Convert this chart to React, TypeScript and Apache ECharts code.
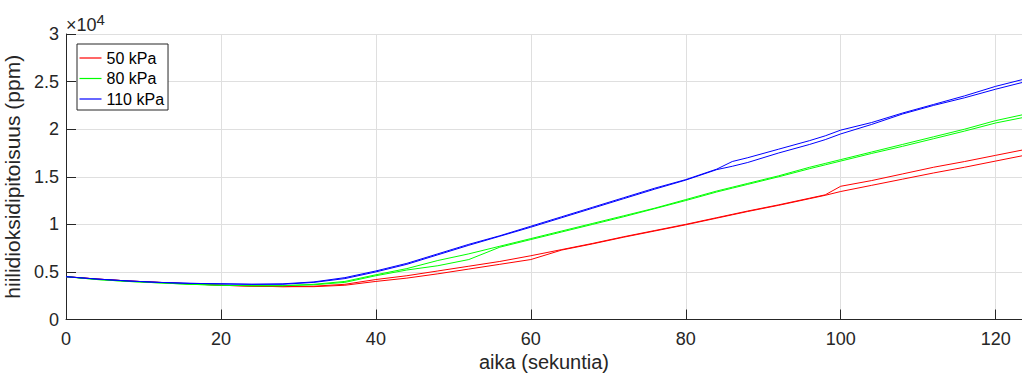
import React, { useEffect, useRef } from "react";
import * as echarts from "echarts";

const times = [0, 4, 8, 12, 16, 20, 24, 28, 32, 36, 40, 44, 48, 52, 56, 60, 64, 68, 72, 76, 80, 84, 86, 88, 92, 96, 98, 100, 104, 108, 112, 116, 120, 123.4];

// values in units of 1e4 ppm
const red1 = [0.45, 0.425, 0.405, 0.39, 0.375, 0.36, 0.35, 0.345, 0.35, 0.37, 0.42, 0.46, 0.51, 0.56, 0.61, 0.67, 0.735, 0.8, 0.87, 0.935, 1.0, 1.07, 1.105, 1.14, 1.205, 1.275, 1.31, 1.4, 1.46, 1.53, 1.6, 1.66, 1.725, 1.78];
const red2 = [0.45, 0.425, 0.405, 0.39, 0.375, 0.36, 0.35, 0.345, 0.345, 0.36, 0.4, 0.435, 0.48, 0.53, 0.58, 0.63, 0.73, 0.795, 0.865, 0.93, 0.995, 1.065, 1.1, 1.135, 1.2, 1.27, 1.305, 1.345, 1.41, 1.475, 1.54, 1.6, 1.665, 1.72];
const green1 = [0.45, 0.42, 0.4, 0.385, 0.37, 0.36, 0.355, 0.355, 0.37, 0.4, 0.47, 0.535, 0.62, 0.69, 0.77, 0.85, 0.93, 1.01, 1.09, 1.17, 1.26, 1.35, 1.39, 1.43, 1.51, 1.6, 1.64, 1.68, 1.76, 1.84, 1.92, 2.0, 2.09, 2.15];
const green2 = [0.45, 0.42, 0.4, 0.385, 0.37, 0.36, 0.355, 0.355, 0.365, 0.39, 0.46, 0.52, 0.565, 0.63, 0.76, 0.84, 0.92, 1.0, 1.08, 1.165, 1.25, 1.34, 1.38, 1.42, 1.5, 1.585, 1.625, 1.665, 1.745, 1.82, 1.9, 1.98, 2.065, 2.12];
const blue1 = [0.45, 0.425, 0.405, 0.39, 0.38, 0.375, 0.37, 0.375, 0.395, 0.44, 0.51, 0.59, 0.69, 0.79, 0.88, 0.98, 1.08, 1.18, 1.28, 1.38, 1.47, 1.58, 1.66, 1.7, 1.79, 1.88, 1.93, 1.99, 2.07, 2.17, 2.26, 2.35, 2.45, 2.52];
const blue2 = [0.45, 0.425, 0.405, 0.39, 0.38, 0.375, 0.37, 0.37, 0.39, 0.43, 0.5, 0.58, 0.68, 0.78, 0.875, 0.97, 1.07, 1.17, 1.27, 1.37, 1.465, 1.575, 1.61, 1.65, 1.75, 1.84, 1.89, 1.95, 2.05, 2.16, 2.25, 2.33, 2.42, 2.49];

const seriesNames = ["50 kPa", "80 kPa", "110 kPa"];
const seriesColors = ["#ff0000", "#00ff00", "#0000ff"];
const seriesGroups = [[red1, red2], [green1, green2], [blue1, blue2]];

const FONT = "Liberation Sans, Arial, Helvetica, sans-serif";
const AXIS_COLOR = "#262626";

export default function App() {
  const ref = useRef<HTMLDivElement>(null);
  useEffect(() => {
    if (!ref.current) return;
    const chart = echarts.init(ref.current, undefined, { renderer: "svg" });
    const series: any[] = [];
    seriesGroups.forEach((group, gi) => {
      group.forEach((vals) => {
        series.push({
          type: "line",
          name: seriesNames[gi],
          data: times.map((t, i) => [t, vals[i] * 10000]),
          symbol: "none",
          showSymbol: false,
          lineStyle: { color: seriesColors[gi], width: 1 },
          itemStyle: { color: seriesColors[gi] },
          emphasis: { disabled: true },
        });
      });
    });
    chart.setOption({
      animation: false,
      backgroundColor: "#ffffff",
      grid: { left: 66, top: 34, right: 0, bottom: 54.5, outerBoundsMode: "none" },
      title: {
        text: "{a|×10}{b|4}",
        left: 66,
        top: 12,
        padding: 0,
        textStyle: {
          color: AXIS_COLOR,
          fontSize: 18,
          fontWeight: "normal",
          fontFamily: FONT,
          rich: {
            a: {
              fontSize: 18,
              fontFamily: FONT,
              color: AXIS_COLOR,
              lineHeight: 22,
              verticalAlign: "bottom",
            },
            b: {
              fontSize: 15,
              fontFamily: FONT,
              color: AXIS_COLOR,
              lineHeight: 22,
              verticalAlign: "top",
            },
          },
        },
      },
      legend: {
        data: seriesNames,
        orient: "vertical",
        left: 77,
        top: 44,
        icon: "rect",
        itemWidth: 22,
        itemHeight: 1.2,
        itemGap: 4.5,
        padding: [6, 4, 3, 2.5],
        backgroundColor: "#ffffff",
        borderColor: AXIS_COLOR,
        borderWidth: 1,
        borderRadius: 0,
        textStyle: { color: "#000000", fontSize: 16, fontFamily: FONT, lineHeight: 16 },
      },
      xAxis: {
        type: "value",
        min: 0,
        max: 123.4,
        interval: 20,
        name: "aika (sekuntia)",
        nameLocation: "middle",
        nameGap: 32,
        nameTextStyle: { color: AXIS_COLOR, fontSize: 20, fontFamily: FONT },
        axisLine: { show: true, lineStyle: { color: AXIS_COLOR, width: 1 } },
        axisTick: { show: true, inside: true, length: 10, lineStyle: { color: AXIS_COLOR } },
        axisLabel: { color: AXIS_COLOR, fontSize: 18, fontFamily: FONT, margin: 10, showMaxLabel: false },
        splitLine: { show: true, lineStyle: { color: "#dfdfdf", width: 1 } },
      },
      yAxis: {
        type: "value",
        min: 0,
        max: 30000,
        interval: 5000,
        name: "hiilidioksidipitoisuus (ppm)",
        nameLocation: "middle",
        nameGap: 38,
        nameTextStyle: { color: AXIS_COLOR, fontSize: 21, fontFamily: FONT },
        axisLine: { show: true, lineStyle: { color: AXIS_COLOR, width: 1 } },
        axisTick: { show: true, inside: true, length: 10, lineStyle: { color: AXIS_COLOR } },
        axisLabel: {
          color: AXIS_COLOR,
          fontSize: 18,
          fontFamily: FONT,
          margin: 7,
          formatter: (v: number) => String(v / 10000),
        },
        splitLine: { show: true, lineStyle: { color: "#dfdfdf", width: 1 } },
      },
      series,
    });
    return () => chart.dispose();
  }, []);
  return (
    <div
      ref={ref}
      style={{ position: "absolute", left: 0, top: 0, width: 1022, height: 374 }}
    />
  );
}
